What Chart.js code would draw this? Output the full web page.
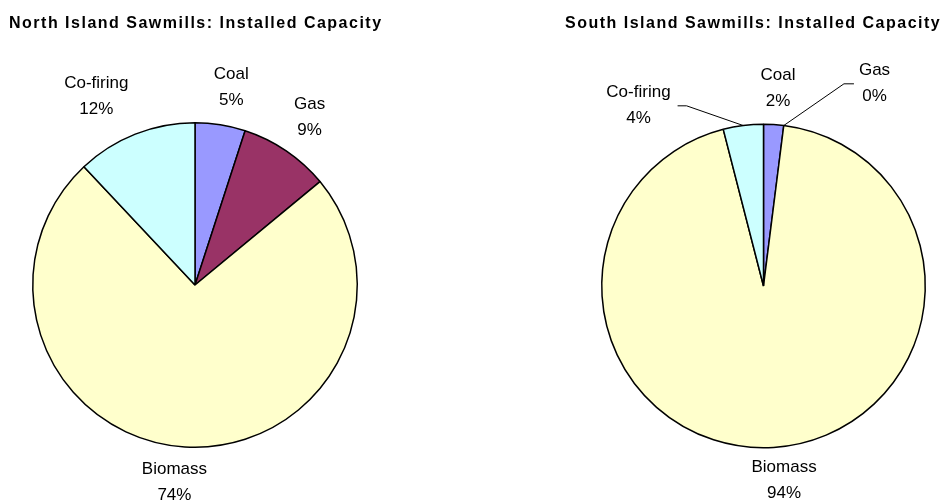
<!DOCTYPE html>
<html>
<head>
<meta charset="utf-8">
<script src="https://cdn.jsdelivr.net/npm/chart.js@4/dist/chart.umd.min.js"></script>
<style>
  html, body { margin: 0; padding: 0; background: #fff; }
  #wrap { position: relative; width: 950px; height: 501px; overflow: hidden; }
  .box { position: absolute; top: 0; width: 475px; height: 501px; }
</style>
</head>
<body>
<div id="wrap">
  <div class="box" style="left:0"><canvas id="north"></canvas></div>
  <div class="box" style="left:475px"><canvas id="south"></canvas></div>
</div>
<script>
// Installed capacity share by fuel type (%)
const categories = ['Coal', 'Gas', 'Biomass', 'Co-firing'];
const northShares = [5, 9, 74, 12];
const southShares = [2, 0, 94, 4];
const northTitle = 'North Island Sawmills: Installed Capacity';
const southTitle = 'South Island Sawmills: Installed Capacity';

const sliceColors = ['#9999FF', '#993366', '#FFFFCC', '#CCFFFF'];
const FONT = '"Liberation Sans", Arial, sans-serif';

// Draws the chart heading and the two-line "name / percent" labels around the pie
const pieLabels = {
  id: 'pieLabels',
  afterDraw(chart, args, opts) {
    const ctx = chart.ctx;
    ctx.save();
    // heading
    ctx.font = 'bold 16px ' + FONT;
    ctx.fillStyle = '#000';
    ctx.textAlign = 'left';
    ctx.textBaseline = 'alphabetic';
    if ('letterSpacing' in ctx) ctx.letterSpacing = '1.5px';
    ctx.fillText(opts.title, opts.titleX, 28);
    if ('letterSpacing' in ctx) ctx.letterSpacing = '0px';

    const meta = chart.getDatasetMeta(0);
    const values = chart.data.datasets[0].data;
    ctx.font = '17px ' + FONT;
    ctx.textAlign = 'center';
    ctx.textBaseline = 'middle';
    const lineH = 26;
    meta.data.forEach((arc, i) => {
      const p = arc.getProps(['x', 'y', 'startAngle', 'endAngle', 'outerRadius'], true);
      const mid = (p.startAngle + p.endAngle) / 2;
      const dist = p.outerRadius + 38;
      const nudge = opts.nudges[i] || [0, 0];
      const cx = p.x + Math.cos(mid) * dist + nudge[0];
      const cy = p.y + Math.sin(mid) * dist + nudge[1];
      const lines = [chart.data.labels[i], values[i] + '%'];
      lines.forEach((t, k) => ctx.fillText(t, cx, cy + (k - 0.5) * lineH));

      if (opts.leaders[i]) {
        const w = Math.max(...lines.map(t => ctx.measureText(t).width));
        const ex = p.x + Math.cos(mid) * p.outerRadius;
        const ey = p.y + Math.sin(mid) * p.outerRadius;
        let elbowX, endX;
        if (cx > ex) { endX = cx - w / 2 - 5; elbowX = endX - 10; }
        else { endX = cx + w / 2 + 7; elbowX = endX + 9; }
        ctx.beginPath();
        ctx.moveTo(ex, ey);
        ctx.lineTo(elbowX, cy + 1);
        ctx.lineTo(endX, cy + 1);
        ctx.strokeStyle = '#000';
        ctx.lineWidth = 1;
        ctx.stroke();
      }
    });
    ctx.restore();
  }
};

function makePie(id, values, title, titleX, padding, nudges, leaders) {
  return new Chart(document.getElementById(id), {
    type: 'pie',
    data: {
      labels: categories,
      datasets: [{
        data: values,
        backgroundColor: sliceColors,
        borderColor: '#000',
        borderWidth: 1.5
      }]
    },
    options: {
      responsive: true,
      maintainAspectRatio: false,
      animation: false,
      layout: { padding },
      plugins: {
        legend: { display: false },
        tooltip: { enabled: false },
        title: { display: false },
        pieLabels: { title, titleX, nudges, leaders }
      }
    },
    plugins: [pieLabels]
  });
}

makePie('north', northShares, northTitle, 9,
  { left: 32, right: 117, top: 122, bottom: 53 },
  [[5, 0], [2, -2], [-8, -3], [-25, -2]],
  [false, false, false, false]);

makePie('south', southShares, southTitle, 90,
  { left: 126, right: 24, top: 123, bottom: 52 },
  [[2, 2], [86, -5], [8, -5], [-100, 17]],
  [false, true, false, true]);
</script>
</body>
</html>
